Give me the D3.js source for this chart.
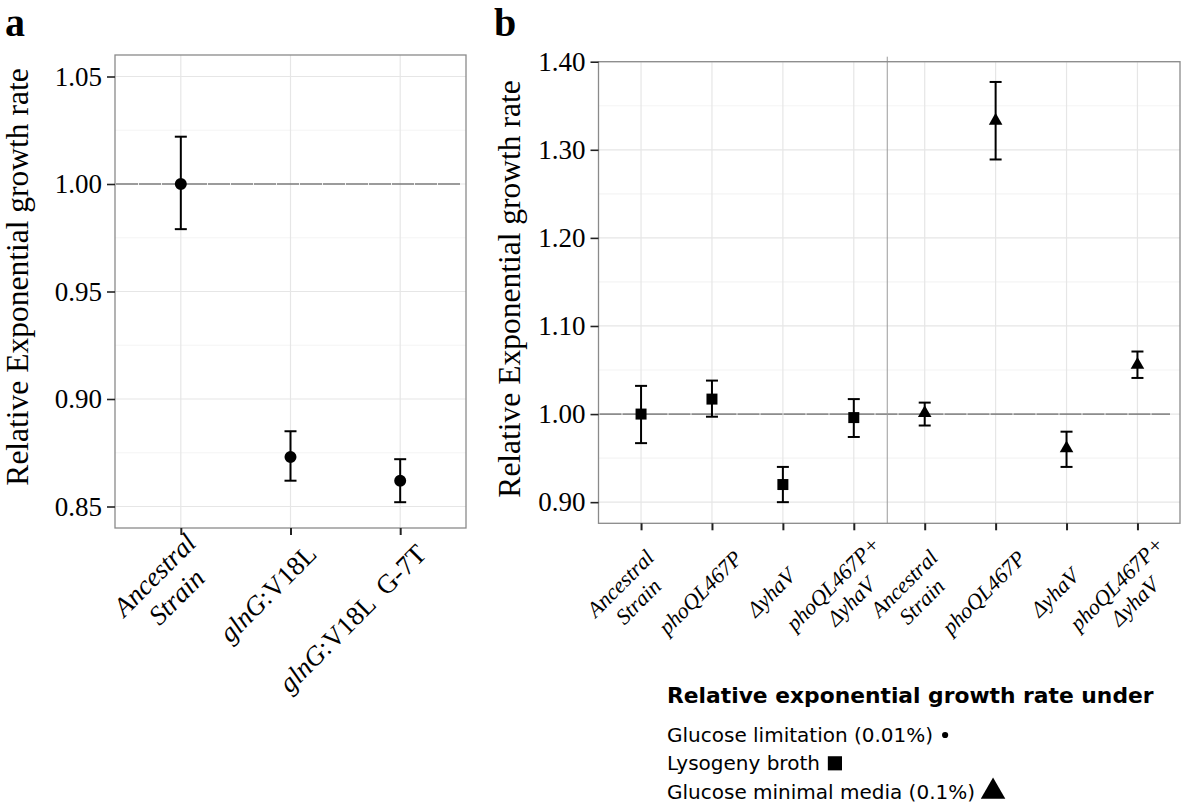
<!DOCTYPE html>
<html><head><meta charset="utf-8">
<script src="https://cdn.jsdelivr.net/npm/d3@7"></script>
<style>body{margin:0;background:#fff} svg{display:block} text{white-space:pre}</style>
</head><body><svg id="c" width="1181" height="807"></svg>
<script>
// ---------- data ----------
const catsA = ["*Ancestral*\n*Strain*", "*glnG*:V18L", "*glnG*:V18L  G-7T"];
const valA  = [1.000, 0.873, 0.862];
const loA   = [0.979, 0.862, 0.852];
const hiA   = [1.022, 0.885, 0.872];
const ticksA = [0.85, 0.90, 0.95, 1.00, 1.05];
const minorA = [0.875, 0.925, 0.975, 1.025];

const catsB = ["*Ancestral*\n*Strain*", "*phoQL467P*", "*ΔyhaV*", "*phoQL467P+*\n*ΔyhaV*",
               "*Ancestral*\n*Strain*", "*phoQL467P*", "*ΔyhaV*", "*phoQL467P+*\n*ΔyhaV*"];
const mediumB = ["LB", "LB", "LB", "LB", "GMM", "GMM", "GMM", "GMM"];
const valB  = [1.000, 1.017, 0.920, 0.996, 1.001, 1.333, 0.961, 1.056];
const loB   = [0.967, 0.997, 0.900, 0.974, 0.987, 1.289, 0.940, 1.041];
const hiB   = [1.032, 1.038, 0.940, 1.017, 1.013, 1.377, 0.980, 1.071];
const ticksB = [0.90, 1.00, 1.10, 1.20, 1.30, 1.40];
const minorB = [0.95, 1.05, 1.15, 1.25, 1.35];

const yTitle = "Relative Exponential growth rate";
const legendTitle = "Relative exponential growth rate under";
const legendLabels = ["Glucose limitation (0.01%)", "Lysogeny broth", "Glucose minimal media (0.1%)"];
const legendShapes = ["circle", "square", "triangle"];

// ---------- drawing ----------
const svg = d3.select("#c");
const SERIF = "'Liberation Serif','Times New Roman',serif";
const SANS = "'DejaVu Sans','Open Sans',sans-serif";
const symType = {circle: d3.symbolCircle, square: d3.symbolSquare, triangle: d3.symbolTriangle};
const symSize = {circle: 113, square: 121, triangle: 80};

function parseLine(line) {
  const segs = [];
  const re = /\*([^*]+)\*|([^*]+)/g; let m;
  while ((m = re.exec(line))) segs.push(m[1] !== undefined ? {t: m[1], it: true} : {t: m[2], it: false});
  return segs;
}

function panel(o) {
  const g = svg.append("g");
  const x = d3.scalePoint().domain(d3.range(o.cats.length)).range([o.left, o.right]).padding(0.6);
  const y = d3.scaleLinear().domain(o.domain).range([o.bottom, o.top]);

  // grid
  g.selectAll(".mn").data(o.minor).join("line")
    .attr("x1", o.left).attr("x2", o.right).attr("y1", d => y(d)).attr("y2", d => y(d))
    .attr("stroke", "#f4f4f4").attr("stroke-width", 1.2);
  g.selectAll(".mj").data(o.ticks).join("line")
    .attr("x1", o.left).attr("x2", o.right).attr("y1", d => y(d)).attr("y2", d => y(d))
    .attr("stroke", "#e6e6e6").attr("stroke-width", 1.2);
  g.selectAll(".vx").data(x.domain()).join("line")
    .attr("x1", d => x(d)).attr("x2", d => x(d)).attr("y1", o.top).attr("y2", o.bottom)
    .attr("stroke", "#e6e6e6").attr("stroke-width", 1.2);

  // reference line at 1
  g.append("line").attr("x1", o.left + 1).attr("x2", o.refEnd)
    .attr("y1", y(1)).attr("y2", y(1)).attr("stroke", "#444").attr("stroke-width", 1)
    .attr("stroke-dasharray", "22,1");

  if (o.sep) {
    const sx = (x(3) + x(4)) / 2 - 2;
    g.append("line").attr("x1", sx).attr("x2", sx).attr("y1", o.top - 5).attr("y2", o.bottom)
      .attr("stroke", "#9a9a9a").attr("stroke-width", 1);
  }

  // border
  g.append("rect").attr("x", o.left).attr("y", o.top)
    .attr("width", o.right - o.left).attr("height", o.bottom - o.top)
    .attr("fill", "none").attr("stroke", "#8a8a8a").attr("stroke-width", 1.3);

  // y axis
  const ya = d3.axisLeft(y).tickValues(o.ticks).tickFormat(d3.format(".2f")).tickSize(8).tickPadding(5);
  const yg = g.append("g").attr("transform", `translate(${o.left},0)`).call(ya);
  yg.select(".domain").remove();
  yg.selectAll(".tick line").attr("stroke", "#222").attr("stroke-width", 1.6);
  yg.selectAll(".tick text").attr("font-family", SERIF).attr("font-size", o.tickFs).attr("fill", "#000");

  // x axis ticks
  const xa = d3.axisBottom(x).tickSize(7).tickFormat("");
  const xg = g.append("g").attr("transform", `translate(0,${o.bottom})`).call(xa);
  xg.select(".domain").remove();
  xg.selectAll(".tick line").attr("stroke", "#222").attr("stroke-width", 2);

  // x labels
  o.cats.forEach((lab, i) => {
    const lines = lab.split("\n");
    const n = lines.length;
    const tx = x(i) + o.lab.dx, ty = o.bottom + o.lab.dy;
    const lg = g.append("g").attr("transform", `translate(${tx},${ty}) rotate(-45)`);
    const texts = lines.map((ln, k) => {
      const t = lg.append("text").attr("font-family", SERIF).attr("font-size", o.labFs)
        .attr("text-anchor", "middle").attr("fill", "#000")
        .attr("y", ((k - (n - 1) / 2) * 1.15 + 0.35) * o.labFs);
      parseLine(ln).forEach(s => t.append("tspan").text(s.t).attr("font-style", s.it ? "italic" : "normal"));
      return t;
    });
    if (o.lab.mode === "end") {
      const W = d3.max(texts, t => t.node().getComputedTextLength());
      texts.forEach(t => t.attr("x", -W / 2));
    }
  });

  // error bars
  const idx = d3.range(o.val.length);
  g.selectAll(".eb").data(idx).join("line")
    .attr("x1", i => x(i)).attr("x2", i => x(i)).attr("y1", i => y(o.lo[i])).attr("y2", i => y(o.hi[i]))
    .attr("stroke", "#000").attr("stroke-width", 2);
  ["lo", "hi"].forEach(k => {
    g.selectAll(".cap" + k).data(idx).join("line")
      .attr("x1", i => x(i) - 6).attr("x2", i => x(i) + 6)
      .attr("y1", i => y(o[k][i])).attr("y2", i => y(o[k][i]))
      .attr("stroke", "#000").attr("stroke-width", 2);
  });
  // points
  g.selectAll(".pt").data(idx).join("path")
    .attr("transform", i => `translate(${x(i)},${y(o.val[i])})`)
    .attr("d", i => d3.symbol().type(symType[o.shape(i)]).size(symSize[o.shape(i)])())
    .attr("fill", "#000");

  // y title
  g.append("text").attr("transform", `translate(${o.titleX},${o.titleY}) rotate(-90)`)
    .attr("text-anchor", "middle").attr("font-family", SERIF).attr("font-size", 31.5)
    .attr("fill", "#000").text(yTitle);

  // panel letter
  svg.append("text").attr("x", o.letterX).attr("y", 36).attr("font-family", SERIF)
    .attr("font-weight", "bold").attr("font-size", 40).attr("fill", "#000").text(o.letter);
}

panel({
  left: 115, right: 466, top: 55, bottom: 528,
  cats: catsA, val: valA, lo: loA, hi: hiA, shape: () => "circle",
  ticks: ticksA, minor: minorA, domain: [0.840, 1.060], refEnd: 461,
  tickFs: 27, labFs: 27, lab: {mode: "end", dx: 21, dy: 21},
  titleX: 28, titleY: 277, letter: "a", letterX: 5
});
panel({
  left: 598.5, right: 1180, top: 61.7, bottom: 523.3,
  cats: catsB, val: valB, lo: loB, hi: hiB, shape: i => mediumB[i] === "LB" ? "square" : "triangle",
  ticks: ticksB, minor: minorB, domain: [0.876, 1.400], refEnd: 1170, sep: true,
  tickFs: 27, labFs: 22, lab: {mode: "mid", dx: -12, dy: 69},
  titleX: 520, titleY: 289, letter: "b", letterX: 494
});

// legend
const lgd = svg.append("g").attr("transform", "translate(667,0)");
lgd.append("text").attr("x", 0).attr("y", 703).attr("font-family", SANS).attr("font-weight", "bold")
  .attr("font-size", 21.8).attr("fill", "#000").text(legendTitle);
legendLabels.forEach((lab, i) => {
  const yy = 742 + i * 28.3;
  const t = lgd.append("text").attr("x", 0).attr("y", yy).attr("font-family", SANS)
    .attr("font-size", 20).attr("fill", "#000").text(lab);
  const w = t.node().getComputedTextLength();
  const shp = legendShapes[i];
  const sz = {circle: 30, square: 200, triangle: 260}[shp];
  const off = {circle: 12, square: 15, triangle: 18}[shp];
  lgd.append("path").attr("transform", `translate(${w + off},${yy - 7})`)
    .attr("d", d3.symbol().type(symType[shp]).size(sz)()).attr("fill", "#000");
});
</script></body></html>
